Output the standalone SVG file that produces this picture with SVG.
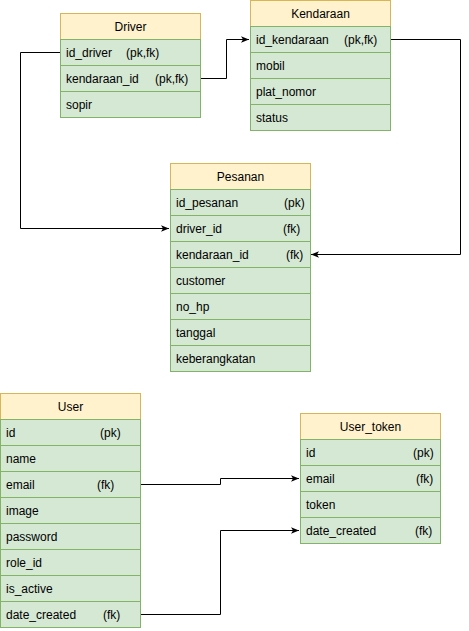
<svg xmlns="http://www.w3.org/2000/svg" width="469" height="631" viewBox="0 0 469 631">
<style>
.h{fill:#fff2cc;stroke:#d6b656;stroke-width:1}
.r{fill:#d5e8d4;stroke:#82b366;stroke-width:1}
text{font-family:"Liberation Sans",Arial,sans-serif;font-size:12px;font-weight:normal;fill:#000}
.c{text-anchor:middle}
.ln{fill:none;stroke:#000;stroke-width:1}
</style>
<defs>
<marker id="a" viewBox="0 0 10 10" refX="10" refY="5" markerWidth="8" markerHeight="8" markerUnits="userSpaceOnUse" orient="auto">
<path d="M0,1 L10,5 L0,9 L2.5,5 Z" fill="#000"/>
</marker>
</defs>
<rect width="469" height="631" fill="#fff"/>
<g id="connectors">
<path class="ln" d="M60.5,52.5 H20.5 V228.5 H169" marker-end="url(#a)"/>
<path class="ln" d="M200.5,78.5 H226.5 V39.5 H249" marker-end="url(#a)"/>
<path class="ln" d="M390.5,39.5 H460.5 V254.5 H311" marker-end="url(#a)"/>
<path class="ln" d="M140.5,484.5 H220.5 V478.5 H299" marker-end="url(#a)"/>
<path class="ln" d="M140.5,614.5 H220.5 V530.5 H299" marker-end="url(#a)"/>
</g>
<g id="driver">
<rect class="h" x="60.5" y="13.5" width="140" height="26"/>
<rect class="r" x="60.5" y="39.5" width="140" height="26"/>
<rect class="r" x="60.5" y="65.5" width="140" height="26"/>
<rect class="r" x="60.5" y="91.5" width="140" height="26"/>
<text class="c" x="130.5" y="31">Driver</text>
<text x="66" y="57">id_driver</text><text x="126" y="57">(pk,fk)</text>
<text x="66" y="83">kendaraan_id</text><text x="155" y="83">(pk,fk)</text>
<text x="66" y="109">sopir</text>
</g>
<g id="kendaraan">
<rect class="h" x="250.5" y="0.5" width="140" height="26"/>
<rect class="r" x="250.5" y="26.5" width="140" height="26"/>
<rect class="r" x="250.5" y="52.5" width="140" height="26"/>
<rect class="r" x="250.5" y="78.5" width="140" height="26"/>
<rect class="r" x="250.5" y="104.5" width="140" height="26"/>
<text class="c" x="320.5" y="18">Kendaraan</text>
<text x="256" y="44">id_kendaraan</text><text x="344" y="44">(pk,fk)</text>
<text x="256" y="70">mobil</text>
<text x="256" y="96">plat_nomor</text>
<text x="256" y="122">status</text>
</g>
<g id="pesanan">
<rect class="h" x="170.5" y="163.5" width="140" height="26"/>
<rect class="r" x="170.5" y="189.5" width="140" height="26"/>
<rect class="r" x="170.5" y="215.5" width="140" height="26"/>
<rect class="r" x="170.5" y="241.5" width="140" height="26"/>
<rect class="r" x="170.5" y="267.5" width="140" height="26"/>
<rect class="r" x="170.5" y="293.5" width="140" height="26"/>
<rect class="r" x="170.5" y="319.5" width="140" height="26"/>
<rect class="r" x="170.5" y="345.5" width="140" height="26"/>
<text class="c" x="240.5" y="181">Pesanan</text>
<text x="176" y="207">id_pesanan</text><text x="284" y="207">(pk)</text>
<text x="176" y="233">driver_id</text><text x="283" y="233">(fk)</text>
<text x="176" y="259">kendaraan_id</text><text x="286" y="259">(fk)</text>
<text x="176" y="285">customer</text>
<text x="176" y="311">no_hp</text>
<text x="176" y="337">tanggal</text>
<text x="176" y="363">keberangkatan</text>
</g>
<g id="user">
<rect class="h" x="0.5" y="393.5" width="140" height="26"/>
<rect class="r" x="0.5" y="419.5" width="140" height="26"/>
<rect class="r" x="0.5" y="445.5" width="140" height="26"/>
<rect class="r" x="0.5" y="471.5" width="140" height="26"/>
<rect class="r" x="0.5" y="497.5" width="140" height="26"/>
<rect class="r" x="0.5" y="523.5" width="140" height="26"/>
<rect class="r" x="0.5" y="549.5" width="140" height="26"/>
<rect class="r" x="0.5" y="575.5" width="140" height="26"/>
<rect class="r" x="0.5" y="601.5" width="140" height="26"/>
<text class="c" x="70.5" y="411">User</text>
<text x="6" y="437">id</text><text x="100" y="437">(pk)</text>
<text x="6" y="463">name</text>
<text x="6" y="489">email</text><text x="97" y="489">(fk)</text>
<text x="6" y="515">image</text>
<text x="6" y="541">password</text>
<text x="6" y="567">role_id</text>
<text x="6" y="593">is_active</text>
<text x="6" y="619">date_created</text><text x="103" y="619">(fk)</text>
</g>
<g id="user_token">
<rect class="h" x="300.5" y="413.5" width="140" height="26"/>
<rect class="r" x="300.5" y="439.5" width="140" height="26"/>
<rect class="r" x="300.5" y="465.5" width="140" height="26"/>
<rect class="r" x="300.5" y="491.5" width="140" height="26"/>
<rect class="r" x="300.5" y="517.5" width="140" height="26"/>
<text class="c" x="370.5" y="431">User_token</text>
<text x="306" y="457">id</text><text x="413" y="457">(pk)</text>
<text x="306" y="483">email</text><text x="416" y="483">(fk)</text>
<text x="306" y="509">token</text>
<text x="306" y="535">date_created</text><text x="415" y="535">(fk)</text>
</g>
</svg>
